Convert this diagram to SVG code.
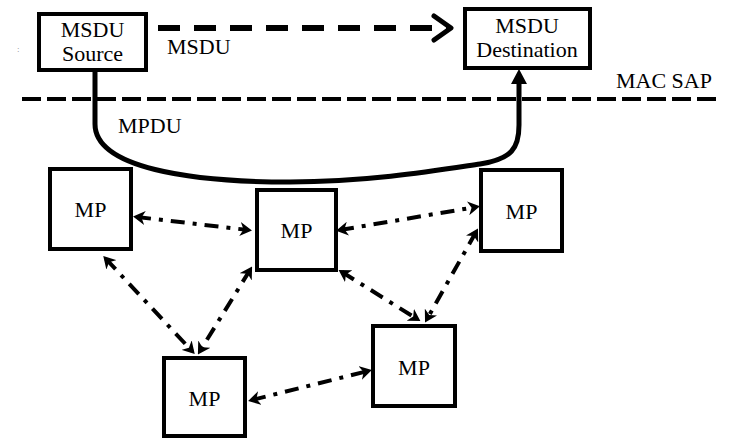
<svg xmlns="http://www.w3.org/2000/svg" width="729" height="438" viewBox="0 0 729 438">
<style>
  .box { fill: #fff; stroke: #000; stroke-width: 4; }
  text { font-family: 'Liberation Serif', 'Times New Roman', serif; fill: #000; }
  .t { font-size: 22px; text-anchor: middle; }
  .mp { font-size: 22px; text-anchor: middle; }
  .lbl { font-size: 22px; }
  .dd { fill: none; stroke: #000; stroke-width: 4; stroke-dasharray: 14 8 4 8; marker-start: url(#ddh); marker-end: url(#ddh); }
</style>
<defs>
  <marker id="ddh" markerUnits="userSpaceOnUse" viewBox="0 0 12 14" markerWidth="12" markerHeight="14" refX="8" refY="7" orient="auto-start-reverse">
    <path d="M0,0 L12,7 L0,14 L3.5,7 z" fill="#000"/>
  </marker>
  <marker id="chev" markerUnits="userSpaceOnUse" viewBox="0 0 26 30" markerWidth="26" markerHeight="30" refX="18" refY="15" orient="auto">
    <path d="M4,3 L21,15 L4,27" fill="none" stroke="#000" stroke-width="5" stroke-linejoin="round" stroke-linecap="round"/>
  </marker>
  <marker id="tri" markerUnits="userSpaceOnUse" viewBox="0 0 16 16" markerWidth="16" markerHeight="16" refX="4" refY="8" orient="auto">
    <path d="M0,0 L15,8 L0,16 z" fill="#000"/>
  </marker>
</defs>
<rect width="729" height="438" fill="#fff"/>
<text x="17" y="52" font-size="9" style="fill:#888">:</text>

<g id="connectors">
  <line x1="22" y1="99" x2="720" y2="99" stroke="#000" stroke-width="4" stroke-dasharray="19 6"/>
  <line x1="158" y1="28" x2="448" y2="28" stroke="#000" stroke-width="6" stroke-dasharray="22 14" marker-end="url(#chev)"/>
  <path d="M95,72 L95,124 C95,168 190,182 290,182 C370,182 440,170 480,164 C512,159 519,148 519,125 L519,80" fill="none" stroke="#000" stroke-width="5" marker-end="url(#tri)"/>
  <line class="dd" x1="137" y1="217" x2="248" y2="230"/>
  <line class="dd" x1="340" y1="230" x2="476" y2="207"/>
  <line class="dd" x1="106" y1="259" x2="192" y2="351"/>
  <line class="dd" x1="250" y1="270" x2="200" y2="351"/>
  <line class="dd" x1="342" y1="272" x2="417" y2="319"/>
  <line class="dd" x1="476" y1="232" x2="427" y2="319"/>
  <line class="dd" x1="252" y1="400" x2="368" y2="371"/>
</g>

<g id="labels">
  <text class="lbl" x="167" y="54">MSDU</text>
  <text class="lbl" x="616" y="88">MAC SAP</text>
  <text class="lbl" x="118" y="133">MPDU</text>
</g>

<g id="msdu-source">
  <rect class="box" x="39" y="14" width="107" height="56"/>
  <text class="t" x="92.5" y="37">MSDU</text>
  <text class="t" x="92.5" y="61">Source</text>
</g>
<g id="msdu-destination">
  <rect class="box" x="465" y="9" width="125" height="59"/>
  <text class="t" x="527" y="33">MSDU</text>
  <text class="t" x="527" y="57">Destination</text>
</g>
<g id="mp1">
  <rect class="box" x="50" y="169" width="81" height="80"/>
  <text class="mp" x="90.5" y="217">MP</text>
</g>
<g id="mp2">
  <rect class="box" x="257" y="190" width="79" height="80"/>
  <text class="mp" x="296.5" y="238">MP</text>
</g>
<g id="mp3">
  <rect class="box" x="481" y="170" width="81" height="81"/>
  <text class="mp" x="521.5" y="219">MP</text>
</g>
<g id="mp4">
  <rect class="box" x="164" y="358" width="81" height="78"/>
  <text class="mp" x="204.5" y="406">MP</text>
</g>
<g id="mp5">
  <rect class="box" x="373" y="326" width="82" height="80"/>
  <text class="mp" x="414" y="375">MP</text>
</g>
</svg>
